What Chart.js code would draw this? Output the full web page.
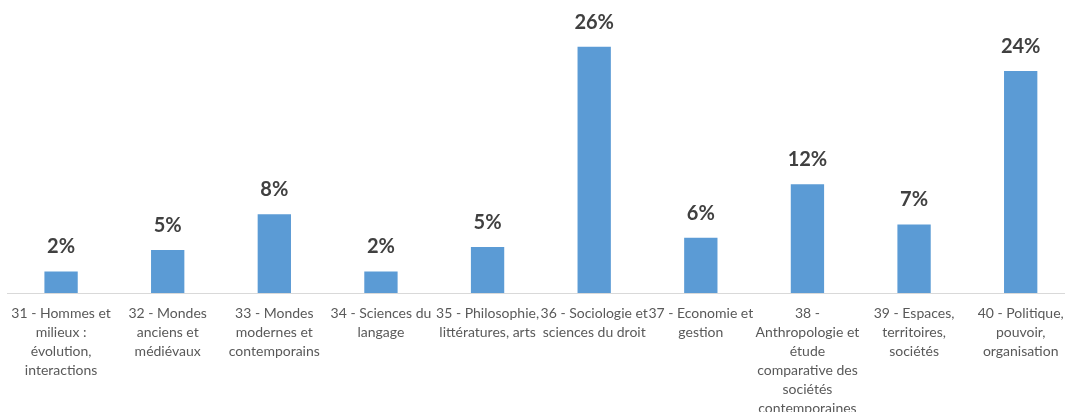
<!DOCTYPE html>
<html>
<head>
<meta charset="utf-8">
<script src="https://cdn.jsdelivr.net/npm/chart.js@4/dist/chart.umd.min.js"></script>
<style>
  html, body { margin: 0; padding: 0; background: #ffffff; overflow: hidden; }
  #wrap { position: relative; width: 1065px; height: 412px; overflow: hidden; }
  canvas { display: block; }
</style>
</head>
<body>
<div id="wrap"><canvas id="c" width="1080" height="429"></canvas></div>
<script>
const categories = [
  ["31 - Hommes et", "milieux :", "évolution,", "interactions"],
  ["32 - Mondes", "anciens et", "médiévaux"],
  ["33 - Mondes", "modernes et", "contemporains"],
  ["34 - Sciences du", "langage"],
  ["35 - Philosophie,", "littératures, arts"],
  ["36 - Sociologie et", "sciences du droit"],
  ["37 - Economie et", "gestion"],
  ["38 -", "Anthropologie et", "étude", "comparative des", "sociétés", "contemporaines"],
  ["39 - Espaces,", "territoires,", "sociétés"],
  ["40 - Politique,", "pouvoir,", "organisation"]
];
const shares = [2.3, 4.6, 8.4, 2.3, 4.9, 26.3, 5.9, 11.6, 7.3, 23.7];

const valueLabels = {
  id: 'valueLabels',
  afterDatasetsDraw(chart) {
    const ctx = chart.ctx;
    const meta = chart.getDatasetMeta(0);
    const data = chart.data.datasets[0].data;
    ctx.save();
    ctx.font = 'bold 20px Lato';
    ctx.fillStyle = '#404040';
    ctx.textAlign = 'center';
    ctx.textBaseline = 'middle';
    meta.data.forEach((el, i) => {
      ctx.fillText(Math.round(data[i]) + '%', el.x, el.y - 24.6);
    });
    ctx.restore();
  }
};

new Chart(document.getElementById('c'), {
  type: 'bar',
  data: {
    labels: categories,
    datasets: [{
      data: shares,
      backgroundColor: '#5B9BD5',
      borderWidth: 0,
      categoryPercentage: 1,
      barPercentage: 0.3125
    }]
  },
  options: {
    responsive: false,
    animation: false,
    layout: { padding: { left: 7, right: 6, top: 12, bottom: 0 } },
    plugins: { legend: { display: false }, tooltip: { enabled: false } },
    scales: {
      x: {
        grid: { display: true, drawOnChartArea: false, drawTicks: false },
        border: { display: true, color: '#d9d9d9', width: 1 },
        ticks: {
          autoSkip: false,
          maxRotation: 0,
          minRotation: 0,
          padding: 11,
          color: '#595959',
          font: { family: 'Lato', size: 14, lineHeight: 19 / 14 }
        }
      },
      y: {
        display: false,
        min: 0,
        max: 30
      }
    }
  },
  plugins: [valueLabels]
});
</script>
</body>
</html>
